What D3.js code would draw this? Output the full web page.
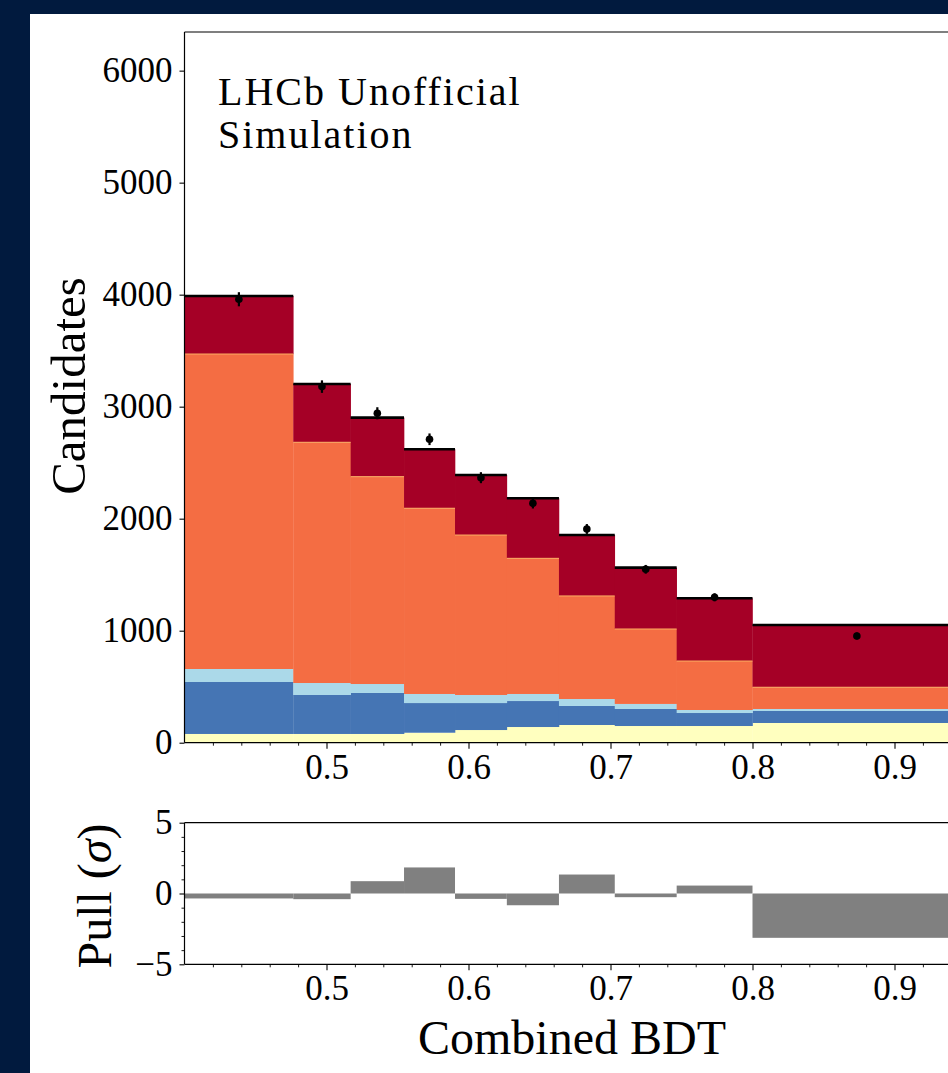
<!DOCTYPE html>
<html><head><meta charset="utf-8">
<script src="https://cdn.jsdelivr.net/npm/d3@7"></script>
<style>html,body{margin:0;padding:0;background:#011a3e;overflow:hidden}svg{display:block}</style>
</head><body>
<script>
const binEdges = [0.4, 0.4766, 0.517, 0.5546, 0.5905, 0.627, 0.6637, 0.703, 0.7466, 0.8, 0.947];
const yellowVals = [78, 78, 78, 89, 113, 140, 158, 149, 149, 176];
const blueVals = [464, 348, 366, 265, 241, 232, 170, 152, 116, 107];
const lightBlueVals = [116, 107, 80, 81, 72, 63, 62, 45, 27, 18];
const orangeVals = [2812, 2149, 1851, 1658, 1428, 1211, 920, 669, 437, 194];
const darkRedVals = [518, 521, 527, 527, 536, 536, 544, 548, 560, 556];
const dataVals = [3959, 3179, 2941, 2709, 2366, 2137, 1908, 1548, 1298, 953];
const dataErrs = [63, 56, 54, 52, 49, 46, 44, 39, 36, 31];
const pullVals = [-0.35, -0.4, 0.87, 1.84, -0.38, -0.83, 1.34, -0.26, 0.56, -3.13];
const yTicks = [0, 1000, 2000, 3000, 4000, 5000, 6000];
const xTicks = [0.5, 0.6, 0.7, 0.8, 0.9];
const pullTicks = [-5, 0, 5];
const seriesColors = ["#ffffbf", "#4575b4", "#abd9e9", "#f46d43", "#a50026"];

(function () {
const W = 948, H = 1073;
const font = "'Liberation Serif', 'DejaVu Serif', serif";
const tickSize = 35;
const svg = d3.select("body").append("svg").attr("width", W).attr("height", H);
svg.append("rect").attr("width", W).attr("height", H).attr("fill", "#011a3e");
svg.append("rect").attr("x", 30).attr("y", 14).attr("width", W - 30).attr("height", H - 14).attr("fill", "#fff");

const x = d3.scaleLinear().domain([0.4, 0.947]).range([184.5, 184.5 + 0.547 * 1420]);
const y = d3.scaleLinear().domain([0, 6345]).range([742.7, 32]);
const yp = d3.scaleLinear().domain([-5, 5]).range([964.3, 822.7]);

const bins = d3.range(dataVals.length).map(i => ({x0: binEdges[i], x1: binEdges[i + 1]}));
const stackData = bins.map((b, i) => ({i, s0: yellowVals[i], s1: blueVals[i], s2: lightBlueVals[i], s3: orangeVals[i], s4: darkRedVals[i]}));
const stack = d3.stack().keys(["s0", "s1", "s2", "s3", "s4"])(stackData);

const main = svg.append("g");
stack.forEach((layer, k) => {
  main.selectAll(null).data(layer).enter().append("rect")
    .attr("x", d => x(bins[d.data.i].x0))
    .attr("width", d => x(bins[d.data.i].x1) - x(bins[d.data.i].x0) + 0.3)
    .attr("y", d => y(d[1]))
    .attr("height", d => y(d[0]) - y(d[1]))
    .attr("fill", seriesColors[k]);
});
main.selectAll(null).data(stack[3]).enter().append("line")
  .attr("x1", d => x(bins[d.data.i].x0)).attr("x2", d => x(bins[d.data.i].x1))
  .attr("y1", d => y(d[1])).attr("y2", d => y(d[1]))
  .attr("stroke", "#fdae61").attr("stroke-width", 1);
const totalLayer = stack[4];
main.selectAll(null).data(totalLayer).enter().append("line")
  .attr("x1", d => x(bins[d.data.i].x0)).attr("x2", d => x(bins[d.data.i].x1))
  .attr("y1", d => y(d[1])).attr("y2", d => y(d[1]))
  .attr("stroke", "#000").attr("stroke-width", 2.6);
const centers = bins.map(b => (b.x0 + b.x1) / 2);
main.selectAll(null).data(dataVals).enter().append("line")
  .attr("x1", (d, i) => x(centers[i])).attr("x2", (d, i) => x(centers[i]))
  .attr("y1", (d, i) => y(d - dataErrs[i])).attr("y2", (d, i) => y(d + dataErrs[i]))
  .attr("stroke", "#000").attr("stroke-width", 2.2);
main.selectAll(null).data(dataVals).enter().append("circle")
  .attr("cx", (d, i) => x(centers[i])).attr("cy", d => y(d)).attr("r", 3.8).attr("fill", "#000");

const axMain = svg.append("g");
axMain.append("line").attr("x1", x(0.4)).attr("x2", W + 20).attr("y1", 32).attr("y2", 32).attr("stroke", "#000").attr("stroke-width", 1.2);
axMain.append("line").attr("x1", x(0.4)).attr("x2", x(0.4)).attr("y1", 32).attr("y2", 742.7).attr("stroke", "#000").attr("stroke-width", 1.2);
axMain.append("line").attr("x1", x(0.4)).attr("x2", W + 20).attr("y1", 742.7).attr("y2", 742.7).attr("stroke", "#000").attr("stroke-width", 1.2);

const yAxis = d3.axisLeft(y).tickValues(yTicks).tickSize(5).tickPadding(7).tickFormat(d3.format("d"));
const gy = svg.append("g").attr("transform", `translate(${x(0.4)},0)`).call(yAxis);
gy.select(".domain").remove();

function styleAxis(g) {
  g.selectAll("text").attr("font-family", font).attr("font-size", tickSize).attr("fill", "#000");
  g.selectAll("line").attr("stroke", "#000").attr("stroke-width", 1.1);
}
styleAxis(gy);

const minorX = d3.range(0.42, 0.947, 0.02).filter(v => xTicks.every(t => Math.abs(t - v) > 1e-6));
function xAxes(yPos) {
  const gx = svg.append("g").attr("transform", `translate(0,${yPos})`)
    .call(d3.axisBottom(x).tickValues(xTicks).tickSize(6).tickPadding(5).tickFormat(d3.format(".1f")));
  gx.select(".domain").remove();
  styleAxis(gx);
  const gm = svg.append("g").attr("transform", `translate(0,${yPos})`)
    .call(d3.axisBottom(x).tickValues(minorX).tickSize(3).tickFormat(""));
  gm.select(".domain").remove();
  gm.selectAll("line").attr("stroke", "#000").attr("stroke-width", 0.9);
  return gx;
}
xAxes(742.7);

const pull = svg.append("g");
pull.selectAll(null).data(pullVals).enter().append("rect")
  .attr("x", (d, i) => x(bins[i].x0))
  .attr("width", (d, i) => x(bins[i].x1) - x(bins[i].x0))
  .attr("y", d => yp(Math.max(0, d)))
  .attr("height", d => Math.abs(yp(d) - yp(0)))
  .attr("fill", "#808080");
pull.append("line").attr("x1", x(0.4)).attr("x2", W + 20).attr("y1", 822.7).attr("y2", 822.7).attr("stroke", "#000").attr("stroke-width", 1.2);
pull.append("line").attr("x1", x(0.4)).attr("x2", W + 20).attr("y1", 964.3).attr("y2", 964.3).attr("stroke", "#000").attr("stroke-width", 1.2);
pull.append("line").attr("x1", x(0.4)).attr("x2", x(0.4)).attr("y1", 822.7).attr("y2", 964.3).attr("stroke", "#000").attr("stroke-width", 1.2);

const gpy = svg.append("g").attr("transform", `translate(${x(0.4)},0)`)
  .call(d3.axisLeft(yp).tickValues(pullTicks).tickSize(5).tickPadding(7).tickFormat(d => d < 0 ? "\u2212" + Math.abs(d) : d));
gpy.select(".domain").remove();
styleAxis(gpy);
const minorP = d3.range(-4, 5, 1).filter(v => v !== 0);
const gpm = svg.append("g").attr("transform", `translate(${x(0.4)},0)`)
  .call(d3.axisLeft(yp).tickValues(minorP).tickSize(3).tickFormat(""));
gpm.select(".domain").remove();
gpm.selectAll("line").attr("stroke", "#000").attr("stroke-width", 0.9);
xAxes(964.3);

svg.append("text").attr("transform", "translate(85,386) rotate(-90)").attr("text-anchor", "middle")
  .attr("font-family", font).attr("font-size", 49).text("Candidates");
svg.append("text").attr("transform", "translate(111,896) rotate(-90)").attr("text-anchor", "middle")
  .attr("font-family", font).attr("font-size", 48).html("Pull (<tspan font-style='italic'>σ</tspan>)");
svg.append("text").attr("x", 572).attr("y", 1054).attr("text-anchor", "middle")
  .attr("font-family", font).attr("font-size", 48).text("Combined BDT");
svg.append("text").attr("x", 218).attr("y", 105).attr("font-family", font).attr("font-size", 40)
  .attr("letter-spacing", 2).text("LHCb Unofficial");
svg.append("text").attr("x", 218).attr("y", 148).attr("font-family", font).attr("font-size", 40)
  .attr("letter-spacing", 2).text("Simulation");
})();
</script>
</body></html>
